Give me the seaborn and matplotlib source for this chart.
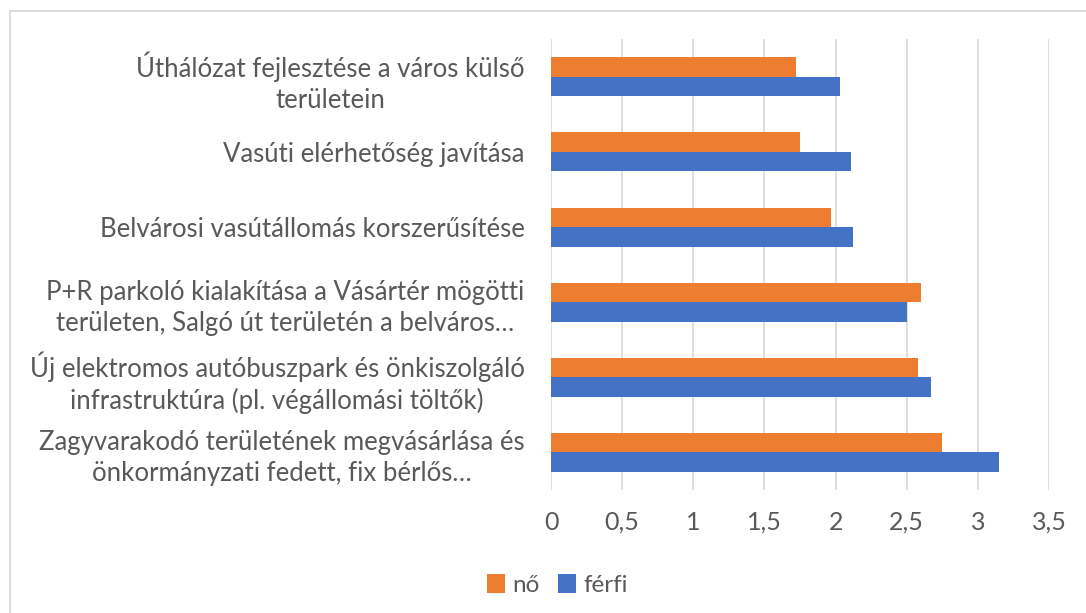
import matplotlib
matplotlib.use("Agg")
import matplotlib.pyplot as plt
from matplotlib.lines import Line2D
import seaborn as sns
import pandas as pd

categories = [
    "Úthálózat fejlesztése a város külső\nterületein",
    "Vasúti elérhetőség javítása",
    "Belvárosi vasútállomás korszerűsítése",
    "P+R parkoló kialakítása a Vásártér mögötti\nterületen, Salgó út területén a belváros…",
    "Új elektromos autóbuszpark és önkiszolgáló\ninfrastruktúra (pl. végállomási töltők)",
    "Zagyvarakodó területének megvásárlása és\nönkormányzati fedett, fix bérlős…",
]
no_values = [1.72, 1.75, 1.97, 2.60, 2.58, 2.75]
ferfi_values = [2.03, 2.11, 2.12, 2.50, 2.67, 3.15]
series = ["nő", "férfi"]
colors = {"nő": "#ED7D31", "férfi": "#4472C4"}
x_ticks = [0, 0.5, 1, 1.5, 2, 2.5, 3, 3.5]
x_tick_labels = ["0", "0,5", "1", "1,5", "2", "2,5", "3", "3,5"]

df = pd.DataFrame({
    "kategoria": categories * 2,
    "nem": ["nő"] * len(categories) + ["férfi"] * len(categories),
    "ertek": no_values + ferfi_values,
})

sns.set_style("white")
plt.rcParams["font.family"] = ["Lato", "DejaVu Sans"]
text_color = "#595959"

fig = plt.figure(figsize=(10.86, 6.13), dpi=100)
ax = fig.add_axes([0.5074, 0.2007, 0.4586, 0.7353])

sns.barplot(data=df, y="kategoria", x="ertek", hue="nem", hue_order=series,
            order=categories, palette=colors, orient="h", width=0.52, gap=0,
            saturation=1, ax=ax, legend=True, edgecolor="none")

ax.set_xlim(0, 3.5)
ax.set_xticks(x_ticks)
ax.set_xticklabels(x_tick_labels, fontsize=18, color=text_color)
ax.set_xlabel("")
ax.set_ylabel("")
ax.tick_params(axis="x", length=0, pad=15)
ax.tick_params(axis="y", length=0, pad=19)
for lbl in ax.get_yticklabels():
    lbl.set_fontsize(18.5)
    lbl.set_color(text_color)
    lbl.set_multialignment("center")
    lbl.set_linespacing(1.3)

ax.grid(axis="x", color="#d9d9d9", linewidth=1.2)
ax.set_axisbelow(True)
for s in ax.spines.values():
    s.set_visible(False)

handles, labels = ax.get_legend_handles_labels()
ax.get_legend().remove()
fig.legend(handles, labels, loc="center", bbox_to_anchor=(0.513, 0.0457),
           ncol=2, frameon=False, fontsize=17.5, labelcolor=text_color,
           handlelength=0.75, handleheight=0.85, handletextpad=0.3,
           columnspacing=0.75)

# chart area frame (top and left edges)
W, H = 1086, 613
fig.add_artist(Line2D([9.5 / W, 9.5 / W], [0, 1 - 10.5 / H], transform=fig.transFigure,
                      color="#d9d9d9", linewidth=1.3))
fig.add_artist(Line2D([9.5 / W, 1], [1 - 10.5 / H, 1 - 10.5 / H], transform=fig.transFigure,
                      color="#d9d9d9", linewidth=1.3))

fig.savefig("out.png", dpi=100, facecolor="white")
